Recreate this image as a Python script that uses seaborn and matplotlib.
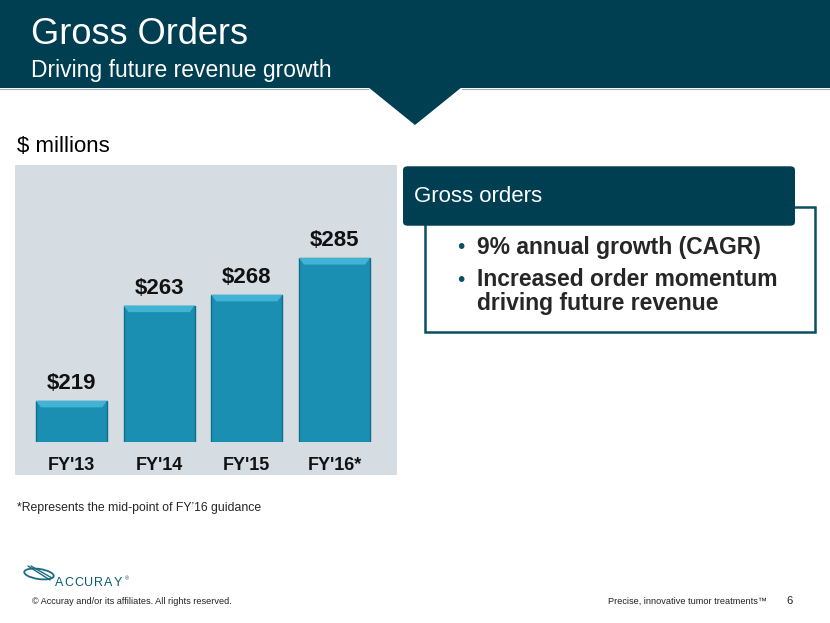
import pandas as pd
import seaborn as sns
import matplotlib.pyplot as plt
from matplotlib.patches import Rectangle, Polygon, FancyBboxPatch, Ellipse
from matplotlib.lines import Line2D

# data
years = ["FY'13", "FY'14", "FY'15", "FY'16*"]
orders = [219, 263, 268, 285]
bullets = ["9% annual growth (CAGR)", "Increased order momentum", "driving future revenue"]

W, H = 830, 623
TEAL = "#003f52"
BAR = "#1a8fb2"
PANEL = "#d5dce2"


def fx(x):
    return x / W


def fy(y):
    return 1 - y / H


sns.set_theme(style="white")
plt.rcParams['font.family'] = ['Liberation Sans', 'DejaVu Sans']

fig = plt.figure(figsize=(8.3, 6.23), dpi=100)
fig.patch.set_facecolor("white")

# header band + pointer
fig.add_artist(Rectangle((0, fy(88)), 1, 1 - fy(88), transform=fig.transFigure,
                         facecolor=TEAL, edgecolor="none", zorder=-2))
fig.add_artist(Polygon([(fx(368), fy(87)), (fx(462), fy(87)), (fx(415), fy(125))],
                       transform=fig.transFigure, facecolor=TEAL, edgecolor="none", zorder=-2))
fig.add_artist(Line2D([0, fx(368)], [fy(88.5)] * 2, transform=fig.transFigure, color="#9fb4bd", lw=0.8))
fig.add_artist(Line2D([fx(462), 1], [fy(88.5)] * 2, transform=fig.transFigure, color="#9fb4bd", lw=0.8))
fig.text(fx(31), fy(35), "Gross Orders", color="white", fontsize=26, va="center")
fig.text(fx(31), fy(70), "Driving future revenue growth", color="white", fontsize=16.5, va="center")

fig.text(fx(17), fy(147), "$ millions", color="black", fontsize=16, va="center")

# grey panel behind chart
fig.add_artist(Rectangle((fx(15), fy(475)), fx(397) - fx(15), fy(165) - fy(475),
                         transform=fig.transFigure, facecolor=PANEL, edgecolor="none", zorder=-1))

ax = fig.add_axes([fx(15), fy(442), fx(397) - fx(15), fy(165) - fy(442)])
ax.set_facecolor("none")
df = pd.DataFrame({"year": years, "orders": orders})
sns.barplot(data=df, x="year", y="orders", color=BAR, saturation=1, width=0.81,
            edgecolor="#0e6e8b", linewidth=1, ax=ax)
ax.set_ylim(200, 328)
ax.set_xlim(-0.644, 3.713)

# small bevel highlight on top of each bar
for p in ax.patches:
    x0, w, top = p.get_x(), p.get_width(), p.get_height()
    ax.fill([x0, x0 + w, x0 + w * 0.93, x0 + w * 0.07], [top, top, top - 3, top - 3],
            color="#41b4d6", lw=0, zorder=3)

ax.bar_label(ax.containers[0], labels=[f"${v}" for v in orders], padding=5,
             fontsize=16, fontweight="bold", color="#111111")
ax.set_xlabel("")
ax.set_ylabel("")
ax.set_yticks([])
ax.tick_params(axis="x", length=0, pad=11, labelsize=13)
for t in ax.get_xticklabels():
    t.set_fontweight("bold")
    t.set_color("#111111")
sns.despine(ax=ax, left=True, bottom=True)

fig.text(fx(17), fy(508), "*Represents the mid-point of FY\u201916 guidance", fontsize=8.8, va="center")

# right call-out box
fig.add_artist(Rectangle((fx(425), fy(332)), fx(815) - fx(425), fy(207) - fy(332),
                         transform=fig.transFigure, facecolor="white", edgecolor="#0b4f63",
                         lw=1.8, zorder=1))
fig.add_artist(FancyBboxPatch((fx(408), fy(222)), fx(790) - fx(408), fy(170) - fy(222),
                              boxstyle="round,pad=0.006", transform=fig.transFigure,
                              facecolor=TEAL, edgecolor="none", zorder=2))
fig.text(fx(414), fy(196), "Gross orders", color="white", fontsize=16, va="center", zorder=3)
for yy in (248, 280):
    fig.text(fx(457), fy(yy), "\u2022", color="#0b4f63", fontsize=15, va="center", zorder=3)
for txt, yy in zip(bullets, (247, 279, 303)):
    fig.text(fx(477), fy(yy), txt, fontsize=16.5, fontweight="bold", va="center", zorder=3)

# footer logo
fig.add_artist(Ellipse((fx(39), fy(574)), fx(30), 10 / H, angle=-12, transform=fig.transFigure,
                       facecolor="none", edgecolor="#1b6b84", lw=1.3))
fig.add_artist(Line2D([fx(28), fx(50)], [fy(566), fy(580)], transform=fig.transFigure,
                      color="#1b6b84", lw=1))
fig.add_artist(Line2D([fx(31), fx(52)], [fy(566), fy(578)], transform=fig.transFigure,
                      color="#1b6b84", lw=1))
for i, ch in enumerate("ACCURAY"):
    fig.text(fx(55 + i * 9.8), fy(583), ch, color="#0b5a73", fontsize=9, va="center")
fig.text(fx(125), fy(579), "\u00ae", color="#0b5a73", fontsize=4, va="center")
fig.text(fx(32), fy(601), "\u00a9 Accuray and/or its affiliates. All rights reserved.",
         fontsize=6.6, va="center", color="#222222")
fig.text(fx(767), fy(601), "Precise, innovative tumor treatments\u2122", fontsize=6.6,
         va="center", ha="right", color="#222222")
fig.text(fx(786), fy(601), "6", fontsize=8, va="center", color="#222222")

fig.savefig("out.png", dpi=100)
